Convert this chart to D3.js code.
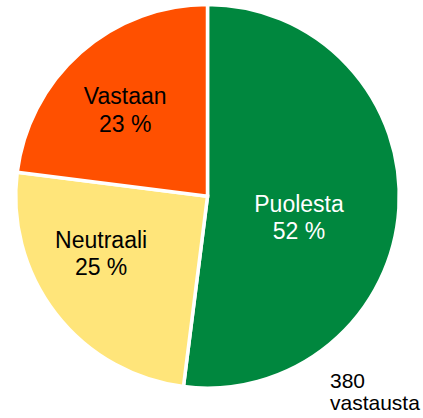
<!DOCTYPE html>
<html>
<head>
<meta charset="utf-8">
<script src="https://cdn.jsdelivr.net/npm/d3@7"></script>
<style>
  html, body { margin: 0; padding: 0; background: #fff; }
  svg { display: block; font-family: Arial, "Liberation Sans", sans-serif; }
</style>
</head>
<body>
<svg id="chart" width="423" height="418"></svg>
<script>
// Data
const categories = ["Puolesta", "Neutraali", "Vastaan"];
const values = [52, 25, 23];
const valueLabels = ["52 %", "25 %", "23 %"];
const footnoteLines = ["380", "vastausta"];

// Styling / layout (kept apart from data)
const colors = ["#00873E", "#FFE57A", "#FF5000"];
const textColors = ["#ffffff", "#000000", "#000000"];
// label anchor: angle (deg, clockwise from top) and radius fraction
const labelPolar = [[103.2, 0.49], [241.7, 0.63], [316.2, 0.62]];

const svg = d3.select("#chart");
const cx = 207.5, cy = 196.3, r = 191.8;

const pie = d3.pie().sort(null).value(d => d)(values);
const arc = d3.arc().innerRadius(0).outerRadius(r);

const g = svg.append("g").attr("transform", `translate(${cx},${cy})`);

g.selectAll("path.slice")
  .data(pie)
  .join("path")
  .attr("class", "slice")
  .attr("d", arc)
  .attr("fill", (d, i) => colors[i])
  .attr("stroke", "#ffffff")
  .attr("stroke-width", 3.5)
  .attr("stroke-linejoin", "miter");

const fs = 23;
const labels = g.selectAll("g.label")
  .data(pie)
  .join("g")
  .attr("class", "label")
  .attr("transform", (d, i) => {
    const a = labelPolar[i][0] * Math.PI / 180;
    const rr = labelPolar[i][1] * r;
    return `translate(${rr * Math.sin(a)},${-rr * Math.cos(a)})`;
  });

labels.append("text")
  .attr("text-anchor", "middle")
  .attr("font-size", fs)
  .attr("fill", (d, i) => textColors[i])
  .attr("y", -6)
  .text((d, i) => categories[i]);

labels.append("text")
  .attr("text-anchor", "middle")
  .attr("font-size", fs)
  .attr("fill", (d, i) => textColors[i])
  .attr("y", 21.5)
  .text((d, i) => valueLabels[i]);

const foot = svg.append("text")
  .attr("x", 330)
  .attr("y", 388)
  .attr("font-size", 21)
  .attr("fill", "#000");
foot.selectAll("tspan")
  .data(footnoteLines)
  .join("tspan")
  .attr("x", 330)
  .attr("dy", (d, i) => i === 0 ? 0 : 21.5)
  .text(d => d);
</script>
</body>
</html>
